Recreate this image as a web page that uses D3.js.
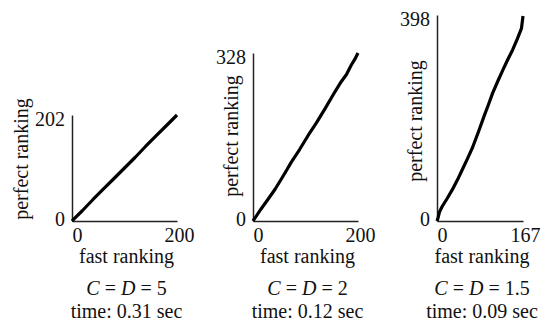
<!DOCTYPE html>
<html>
<head>
<meta charset="utf-8">
<script src="https://cdn.jsdelivr.net/npm/d3@7"></script>
<style>
  body { margin: 0; background: #fff; }
  svg { display: block; }
</style>
</head>
<body>
<svg id="chart" width="543" height="327"></svg>
<script>
// values
const fastMax = [200, 200, 167];
const perfectMax = [202, 328, 398];
const cdValues = ['5', '2', '1.5'];
const times = ['0.31', '0.12', '0.09'];

const fast1 = [0, 2, 20, 40, 60, 80, 100, 120, 140, 160, 180, 200];
const perfect1 = [0, 2, 20, 41, 61, 81, 101, 121, 142, 162, 182, 202];

const fast2 = [0, 2, 15, 29, 42, 54, 64, 73, 89, 105, 121, 137, 153, 168, 178, 187, 194, 200];
const perfect2 = [0, 3, 23, 43, 62, 82, 99, 115, 140, 167, 192, 219, 247, 272, 286, 304, 316, 328];

const fast3 = [0, 2, 5, 10, 20, 30, 40, 49, 59, 69, 80, 92, 100, 108, 118, 128, 137, 147, 156, 164, 167];
const perfect3 = [0, 6, 18, 28, 44, 61, 80, 99, 120, 142, 171, 204, 225, 247, 270, 292, 311, 331, 352, 372, 396];

const fastSeries = [fast1, fast2, fast3];
const perfectSeries = [perfect1, perfect2, perfect3];

// panel layout (pixels)
const panels = [
  { x0: 72,  x1: 177, y0: 221, y1: 115, labelGap: 44, labelMid: 159 },
  { x0: 253, x1: 358, y0: 221, y1: 53,  labelGap: 15, labelMid: 136 },
  { x0: 437, x1: 523, y0: 221, y1: 15,  labelGap: 15, labelMid: 121 }
];

const FONT = "'Liberation Serif', 'Times New Roman', Times, 'DejaVu Serif', serif";

const svg = d3.select('#chart')
  .attr('font-family', FONT)
  .attr('font-size', 20);
svg.append('rect').attr('width', 543).attr('height', 327).attr('fill', '#fff');

panels.forEach((p, i) => {
  const x = d3.scaleLinear().domain([0, fastMax[i]]).range([p.x0, p.x1]);
  const y = d3.scaleLinear().domain([0, perfectMax[i]]).range([p.y0, p.y1]);
  const g = svg.append('g');

  // y axis
  const ya = g.append('g')
    .attr('transform', `translate(${p.x0},0)`)
    .call(d3.axisLeft(y).tickValues([0, perfectMax[i]]).tickSize(0).tickSizeOuter(0).tickPadding(7));
  ya.attr('font-family', FONT).attr('font-size', 20);
  ya.select('.domain').attr('stroke', '#222').attr('stroke-width', 1.5);
  ya.selectAll('text')
    .attr('fill', '#111')
    .attr('dy', d => d === 0 ? '0.2em' : '0.5em');

  // x axis
  const xa = g.append('g')
    .attr('transform', `translate(0,${p.y0})`)
    .call(d3.axisBottom(x).tickValues([0, fastMax[i]]).tickSize(0).tickSizeOuter(0).tickPadding(7));
  xa.attr('font-family', FONT).attr('font-size', 20);
  xa.select('.domain').attr('stroke', '#222').attr('stroke-width', 1.5);
  xa.selectAll('text')
    .attr('fill', '#111')
    .attr('dx', d => d === 0 ? 5 : 2);

  // data line
  const pts = fastSeries[i].map((f, k) => [f, perfectSeries[i][k]]);
  g.append('path')
    .datum(pts)
    .attr('fill', 'none')
    .attr('stroke', '#000')
    .attr('stroke-width', 3.2)
    .attr('stroke-linejoin', 'round')
    .attr('d', d3.line().x(d => x(d[0])).y(d => y(d[1])));

  // axis titles
  const cx = (p.x0 + p.x1) / 2 + 2;
  g.append('text')
    .attr('fill', '#111')
    .attr('transform', `translate(${p.x0 - p.labelGap},${p.labelMid}) rotate(-90)`)
    .attr('text-anchor', 'middle')
    .text('perfect ranking');

  g.append('text')
    .attr('fill', '#111')
    .attr('x', cx).attr('y', 263)
    .attr('text-anchor', 'middle')
    .text('fast ranking');

  const cd = g.append('text')
    .attr('fill', '#111')
    .attr('x', cx).attr('y', 295)
    .attr('text-anchor', 'middle');
  cd.append('tspan').attr('font-style', 'italic').text('C');
  cd.append('tspan').text(' = ');
  cd.append('tspan').attr('font-style', 'italic').text('D');
  cd.append('tspan').text(' = ' + cdValues[i]);

  g.append('text')
    .attr('fill', '#111')
    .attr('x', cx).attr('y', 318)
    .attr('text-anchor', 'middle')
    .text('time: ' + times[i] + ' sec');
});
</script>
</body>
</html>
